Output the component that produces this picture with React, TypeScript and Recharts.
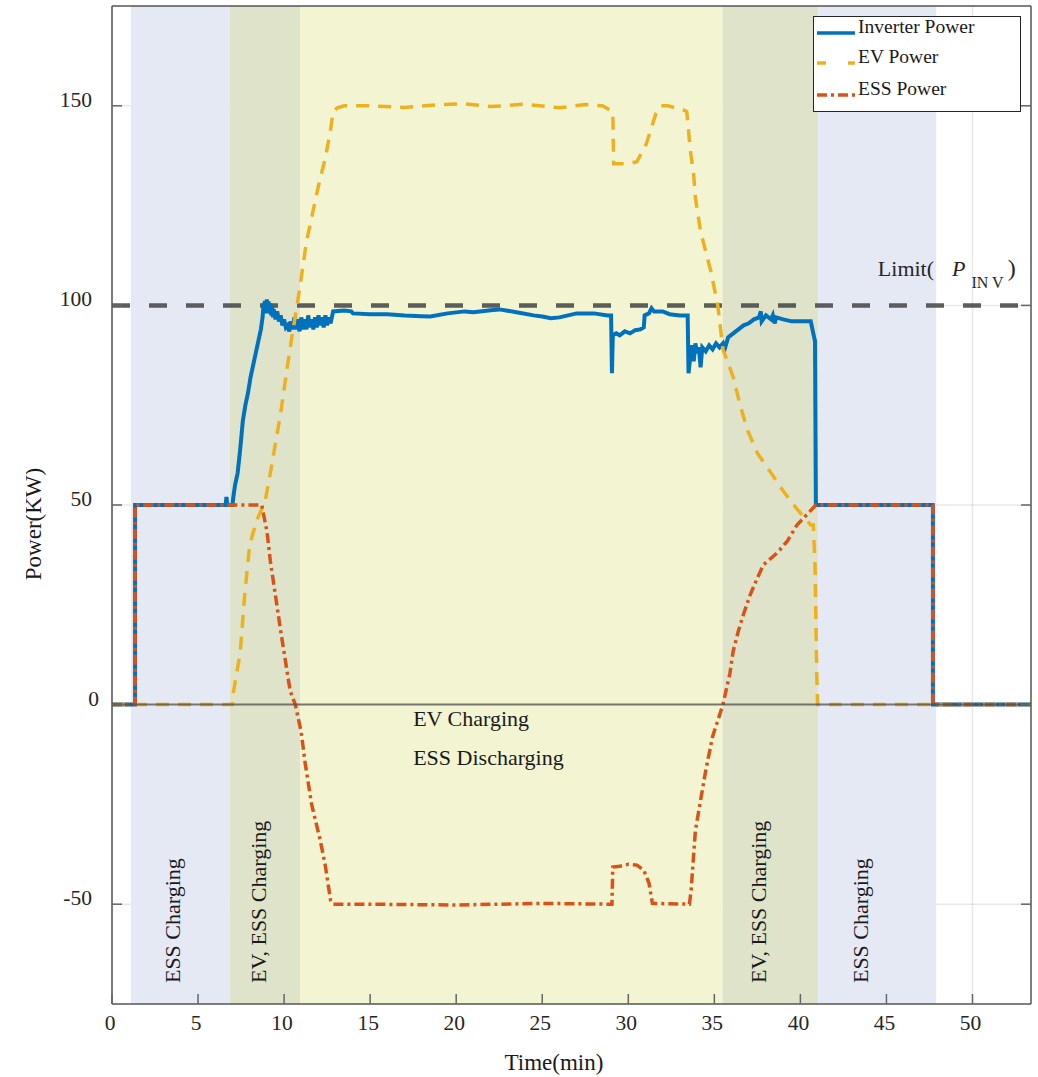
import React from 'react';
import {
  LineChart, Line, XAxis, YAxis, CartesianGrid, ReferenceArea, ReferenceLine, ReferenceDot, Legend,
} from 'recharts';

const FONT = '"Liberation Serif", "Times New Roman", serif';

// axis ticks
const xTicks = [0, 5, 10, 15, 20, 25, 30, 35, 40, 45, 50];
const yTicks = [-50, 0, 50, 100, 150];

// operating phases (min)
const phaseStart = [1.1, 6.85, 10.93, 35.48, 41.03];
const phaseEnd = [6.85, 10.93, 35.48, 41.03, 47.89];
const phaseColor = ['#E5E9F4', '#DEE3C9', '#F2F4D2', '#DEE3C9', '#E5E9F4'];

// Inverter power (kW)
const inverterTime = [
  0, 1.34, 1.34, 6.6, 6.65, 6.7, 7.0, 7.05, 7.15, 7.3, 7.45, 7.6, 7.75, 7.9, 8.05, 8.2, 8.35, 8.5, 8.65, 8.75, 8.8,
  8.9, 8.95, 9.0, 9.05, 9.1, 9.15, 9.2, 9.25, 9.3, 9.35, 9.4, 9.5, 9.6, 9.7, 9.8, 9.9, 10.0, 10.1, 10.2, 10.3,
  10.4, 10.5, 10.6, 10.7, 10.8, 10.9, 11.0, 11.1, 11.2, 11.3, 11.4, 11.5, 11.6, 11.7, 11.8, 11.9, 12.0, 12.1, 12.2,
  12.3, 12.4, 12.5, 12.6, 12.7, 12.8, 12.85, 13.5, 13.9, 14.0, 15, 16, 17, 18, 18.5, 19.5, 20.5, 21, 22, 22.5,
  23.5, 24.5, 25, 25.5, 26, 26.5, 27, 28, 28.8, 29.0, 29.05, 29.1, 29.3, 29.5, 29.8, 30.1, 30.4, 30.7, 30.9,
  30.95, 31.2, 31.35, 31.5, 32.0, 32.4, 33.0, 33.45, 33.5, 33.6, 33.7, 33.8, 33.9, 34.0, 34.1, 34.2, 34.3, 34.5,
  34.7, 34.9, 35.1, 35.3, 35.5, 35.6, 35.8, 36.1, 36.4, 36.7, 37.0, 37.3, 37.6, 37.7, 37.75, 38.0, 38.3, 38.4,
  38.5, 38.6, 39.0, 39.5, 40.0, 40.6, 40.75, 40.85, 40.9, 47.7, 47.7, 53.4,
];
const inverterPower = [
  0, 0, 50, 50, 52, 50, 50, 52, 55, 58, 64, 71, 75, 78, 82, 85, 88, 91, 94, 97, 100,
  101, 98, 101.5, 98, 101, 98.5, 100.5, 97.5, 100, 97, 99, 96.5, 98.5, 96, 97.5, 95, 96.5, 94.5, 95, 93.5,
  96, 94, 97, 94, 96.5, 93.5, 97, 94, 96.5, 94, 97.5, 94.5, 96.5, 94, 97, 94.5, 97.5, 95, 97,
  94.5, 97.5, 95, 97, 95.5, 97.5, 98.5, 98.7, 98.5, 98, 97.8, 97.8, 97.5, 97.3, 97.2, 98, 98.5, 98.3, 98.8, 99,
  98.3, 97.5, 97.2, 96.8, 97, 97.5, 98, 98, 97.5, 97.5, 83, 92.5, 93, 92.5, 93.5, 93, 93.8, 94, 94.5,
  97.5, 98, 99.3, 98.5, 98.5, 97.8, 97.5, 97.5, 83, 87, 90, 86, 90.5, 88, 89.5, 84.5, 89.5, 88.5,
  90, 89, 90.5, 89.5, 90.5, 89, 92, 93, 94, 95, 95.5, 96.5, 97, 98.5, 96, 97.5, 96.5, 97.5,
  95.5, 97, 96.5, 96, 96, 96, 93, 91, 50, 50, 0, 0,
];

// EV power (kW)
const evTime = [
  0, 7.0, 7.05, 7.45, 7.7, 8.0, 8.4, 8.9, 9.2, 9.8, 10.2, 10.45, 10.9, 11.3, 11.7, 12.0, 12.4, 12.7, 12.85, 13.1,
  13.5, 15, 17, 19, 20.5, 22, 24, 26, 27.5, 28.5, 28.9, 29.1, 29.15, 30.0, 30.5, 31.05, 31.6, 31.9, 32.3, 33.3,
  33.4, 33.6, 33.8, 33.9, 34.2, 34.8, 35.2, 35.5, 36.1, 36.5, 36.9, 37.5, 38.3, 39.0, 39.8, 40.6, 40.75, 40.85,
  40.95, 41.0, 53.4,
];
const evPower = [
  0, 0, 3, 13, 27, 40, 46, 51, 58, 73, 85, 92, 104, 116, 124, 130, 137, 144, 148.5, 149.5,
  150, 150, 149.6, 150.3, 150.5, 149.8, 150.4, 149.5, 150.3, 150, 149, 148.5, 135.5, 135.5, 136, 140.5, 148, 150, 150, 148.8,
  148.5, 139, 132.7, 127, 118.5, 108.5, 100, 89, 82, 75, 69, 63, 58, 53.5, 49, 45, 45, 35,
  8, 0, 0,
];

// ESS power (kW)
const essTime = [
  0, 1.34, 1.34, 8.7, 9.0, 9.2, 9.8, 10.35, 10.65, 11.0, 11.2, 11.6, 12.1, 12.4, 12.7, 12.85, 15, 20, 25,
  29.05, 29.1, 29.5, 30.0, 30.5, 30.9, 31.2, 31.4, 33.55, 33.65, 33.9, 34.2, 34.5, 34.9, 35.5, 35.9, 36.1,
  36.4, 36.7, 37.1, 37.5, 37.85, 38.65, 39.25, 39.8, 40.4, 40.9, 47.7, 47.7, 53.4,
];
const essPower = [
  0, 0, 50, 50, 43.5, 36, 18.5, 3.5, 0, -7, -14, -25, -34, -40.5, -49, -50, -50, -50.2, -49.8,
  -50, -40.7, -40.5, -40, -40.2, -41.5, -44.7, -49.8, -50, -46.5, -31.5, -24, -16.5, -8, 0, 7.7, 13.5,
  18.5, 22.7, 27.7, 31.7, 35, 38, 41, 45, 47.7, 50, 50, 0, 0,
];

const toPoints = (t: number[], p: number[]) => t.map((x, i) => ({ t: x, p: p[i] }));
const inverterData = toPoints(inverterTime, inverterPower);
const evData = toPoints(evTime, evPower);
const essData = toPoints(essTime, essPower);

const PLOT_TOP = 6;
const PLOT_BOTTOM = 1004;
const PLOT_LEFT = 112;
const PLOT_RIGHT = 1031;
const TICK = '#666';

const BottomTick = (props: any) => {
  const { x, payload } = props;
  return (
    <g>
      <line x1={x} x2={x} y1={PLOT_BOTTOM} y2={PLOT_BOTTOM - 10} stroke={TICK} strokeWidth={1.5} />
      <text x={x - 2} y={1030} textAnchor="middle" fontSize={21.5} fontFamily={FONT} fill="#262626">
        {payload.value}
      </text>
    </g>
  );
};

const TopTick = (props: any) => (
  <line x1={props.x} x2={props.x} y1={PLOT_TOP} y2={PLOT_TOP + 10} stroke={TICK} strokeWidth={1.5} />
);

const LeftTick = (props: any) => {
  const { y, payload } = props;
  return (
    <g>
      <line x1={PLOT_LEFT} x2={PLOT_LEFT + 10} y1={y} y2={y} stroke={TICK} strokeWidth={1.5} />
      <text x={payload.value === 0 ? 99 : 92} y={y + 1} textAnchor="end" fontSize={21.5} fontFamily={FONT} fill="#262626">
        {payload.value}
      </text>
    </g>
  );
};

const RightTick = (props: any) => (
  <line x1={PLOT_RIGHT} x2={PLOT_RIGHT - 10} y1={props.y} y2={props.y} stroke={TICK} strokeWidth={1.5} />
);

const textShape = (label: string, rotate = false, size = 22) => (props: any) => {
  const { cx, cy } = props;
  return (
    <text
      x={cx}
      y={cy}
      transform={rotate ? `rotate(-90 ${cx} ${cy})` : undefined}
      fontSize={size}
      fontFamily={FONT}
      fill="#1a1a1a"
    >
      {label}
    </text>
  );
};

const limitShape = (props: any) => {
  const { cx, cy } = props;
  return (
    <text x={cx} y={cy} fontSize={22} fontFamily={FONT} fill="#262626">
      Limit(
      <tspan dx={18} fontStyle="italic">P</tspan>
      <tspan dx={6} dy={12} fontSize={16}>IN V</tspan>
      <tspan dx={4} dy={-12} fontSize={24}>)</tspan>
    </text>
  );
};

const renderLegend = () => (
  <svg width={208} height={96} style={{ display: 'block' }}>
    <rect x={0.5} y={0.5} width={207} height={95} fill="#fff" stroke="#262626" strokeWidth={1} />
    <line x1={4} x2={42} y1={17} y2={17} stroke="#0072BD" strokeWidth={3.5} />
    <line x1={4} x2={42} y1={47} y2={47} stroke="#EDB120" strokeWidth={3.5} strokeDasharray="9 22" />
    <line x1={4} x2={42} y1={79} y2={79} stroke="#D95319" strokeWidth={3.5} strokeDasharray="10 4 3 4" />
    <text x={45} y={17} fontSize={19.5} fontFamily={FONT} fill="#1a1a1a">Inverter Power</text>
    <text x={45} y={47} fontSize={19.5} fontFamily={FONT} fill="#1a1a1a">EV Power</text>
    <text x={45} y={79} fontSize={19.5} fontFamily={FONT} fill="#1a1a1a">ESS Power</text>
  </svg>
);

const yLabel = () => (
  <g>
    <defs>
      <clipPath id="ylab-clip" clipPathUnits="userSpaceOnUse">
        <rect x={26} y={0} width={60} height={1077} />
      </clipPath>
    </defs>
    <g clipPath="url(#ylab-clip)">
      <text
        x={41}
        y={524}
        transform="rotate(-90 41 524)"
        textAnchor="middle"
        fontSize={23}
        fontFamily={FONT}
        fill="#1a1a1a"
      >
        Power(KW)
      </text>
    </g>
  </g>
);

const xLabel = () => (
  <text x={554} y={1070} textAnchor="middle" fontSize={23} fontFamily={FONT} fill="#1a1a1a">
    Time(min)
  </text>
);

export default function App() {
  return (
    <div style={{ position: 'absolute', left: 0, top: 0 }}>
      <LineChart width={1038} height={1077} margin={{ top: 0, right: 0, bottom: 33, left: 52 }}>
        {phaseStart.map((s, i) => (
          <ReferenceArea
            key={`ph${i}`}
            x1={s}
            x2={phaseEnd[i]}
            y1={-75}
            y2={175}
            fill={phaseColor[i]}
            fillOpacity={1}
            stroke="none"
          />
        ))}
        <CartesianGrid
          horizontalValues={yTicks}
          verticalValues={xTicks}
          stroke="#000"
          strokeOpacity={0.09}
          strokeWidth={1.5}
          strokeDasharray=""
        />
        <XAxis
          dataKey="t"
          type="number"
          domain={[0, 53.4]}
          ticks={xTicks}
          allowDataOverflow
          height={40}
          tick={BottomTick}
          tickLine={false}
          axisLine={{ stroke: '#555', strokeWidth: 1.5 }}
          label={xLabel}
        />
        <XAxis
          xAxisId="top"
          orientation="top"
          type="number"
          domain={[0, 53.4]}
          ticks={xTicks}
          allowDataOverflow
          height={6}
          tick={TopTick}
          tickLine={false}
          axisLine={{ stroke: '#555', strokeWidth: 1.5 }}
        />
        <YAxis
          type="number"
          domain={[-75, 175]}
          ticks={yTicks}
          allowDataOverflow
          width={60}
          tick={LeftTick}
          tickLine={false}
          axisLine={{ stroke: '#555', strokeWidth: 1.5 }}
          label={yLabel}
        />
        <YAxis
          yAxisId="right"
          orientation="right"
          type="number"
          domain={[-75, 175]}
          ticks={yTicks}
          allowDataOverflow
          width={7}
          tick={RightTick}
          tickLine={false}
          axisLine={{ stroke: '#555', strokeWidth: 1.5 }}
        />
        <ReferenceLine y={100} stroke="#4d4d4d" strokeOpacity={0.9} strokeWidth={4.5} strokeDasharray="18 19" />
        <Line
          data={inverterData}
          dataKey="p"
          type="linear"
          stroke="#0072BD"
          strokeWidth={4}
          dot={false}
          isAnimationActive={false}
          name="Inverter Power"
        />
        <Line
          data={evData}
          dataKey="p"
          type="linear"
          stroke="#EDB120"
          strokeWidth={3.5}
          strokeDasharray="13 9"
          dot={false}
          isAnimationActive={false}
          name="EV Power"
        />
        <Line
          data={essData}
          dataKey="p"
          type="linear"
          stroke="#D95319"
          strokeWidth={3.5}
          strokeDasharray="10 4 3 4"
          dot={false}
          isAnimationActive={false}
          name="ESS Power"
        />
        <ReferenceLine y={0} stroke="#4d4d4d" strokeOpacity={0.75} strokeWidth={2} />
        <ReferenceDot x={17.5} y={-5.25} r={0} shape={textShape('EV Charging')} />
        <ReferenceDot x={17.5} y={-15.25} r={0} shape={textShape('ESS Discharging')} />
        <ReferenceDot x={3.95} y={-69.75} r={0} shape={textShape('ESS Charging', true)} />
        <ReferenceDot x={8.95} y={-69.75} r={0} shape={textShape('EV, ESS Charging', true)} />
        <ReferenceDot x={38.0} y={-69.75} r={0} shape={textShape('EV, ESS Charging', true)} />
        <ReferenceDot x={43.95} y={-69.75} r={0} shape={textShape('ESS Charging', true)} />
        <ReferenceDot x={44.5} y={107.25} r={0} shape={limitShape} />
        <Legend
          content={renderLegend}
          layout="horizontal"
          verticalAlign="middle"
          align="center"
          wrapperStyle={{ left: 813, top: 16, width: 208, height: 96 }}
        />
      </LineChart>
    </div>
  );
}
